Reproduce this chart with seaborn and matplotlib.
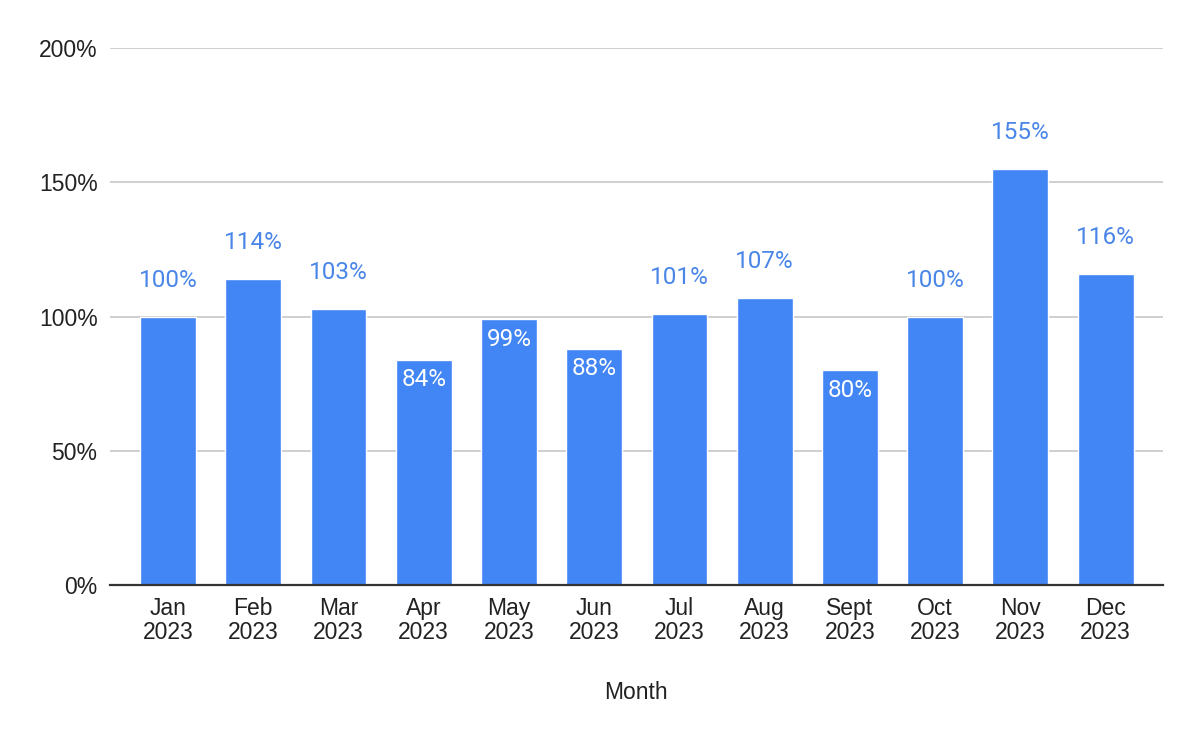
import pandas as pd
import matplotlib.pyplot as plt
import seaborn as sns

# --- Data ---
MONTHS = ["Jan\n2023", "Feb\n2023", "Mar\n2023", "Apr\n2023", "May\n2023", "Jun\n2023",
          "Jul\n2023", "Aug\n2023", "Sept\n2023", "Oct\n2023", "Nov\n2023", "Dec\n2023"]
VALUES = [100, 114, 103, 84, 99, 88, 101, 107, 80, 100, 155, 116]
Y_TICKS = [0, 50, 100, 150, 200]

BAR_COLOR = "#4285F4"
LABEL_COLOR = "#4A86E8"

df = pd.DataFrame({"Month": MONTHS, "Value": VALUES})

sns.set_style("white")
plt.rcParams["font.family"] = ["Liberation Sans", "DejaVu Sans"]

fig = plt.figure(figsize=(12, 7.42), dpi=100)
ax = fig.add_axes([0.0917, 0.2116, 0.969 - 0.0917, 0.935 - 0.2116])

sns.barplot(data=df, x="Month", y="Value", color=BAR_COLOR, width=0.656,
            saturation=1, ax=ax, zorder=3)

ax.set_ylim(0, 200)
ax.set_xlim(-0.68, 11.67)
ax.set_yticks(Y_TICKS)
ax.set_yticklabels([f"{t}%" for t in Y_TICKS])
ax.yaxis.grid(True, color="#cccccc", linewidth=1.3, zorder=0)
ax.xaxis.grid(False)

for side in ["top", "right", "left"]:
    ax.spines[side].set_visible(False)
ax.spines["bottom"].set_color("#333333")
ax.spines["bottom"].set_linewidth(1.6)
ax.spines["bottom"].set_zorder(4)

ax.tick_params(axis="x", length=0, pad=9, labelsize=16.5, colors="#222222")
ax.tick_params(axis="y", length=0, pad=9, labelsize=16.5, colors="#222222")
for lab in ax.get_xticklabels():
    lab.set_linespacing(1.05)

ax.set_xlabel("Month", fontsize=16.5, color="#222222", labelpad=26)
ax.set_ylabel("")

# data labels: above the bar for >= 100, inside in white otherwise
for i, v in enumerate(VALUES):
    if v >= 100:
        ax.annotate(f"{v}%", (i, v), xytext=(0, 26), textcoords="offset points",
                    ha="center", va="center", fontsize=17.5, color=LABEL_COLOR,
                    family=["Roboto", "DejaVu Sans"], zorder=5)
    else:
        ax.annotate(f"{v}%", (i, v), xytext=(0, -14.5), textcoords="offset points",
                    ha="center", va="center", fontsize=17.5, color="white",
                    family=["Roboto", "DejaVu Sans"], zorder=5)

plt.savefig("out.png", dpi=100)
plt.close()
